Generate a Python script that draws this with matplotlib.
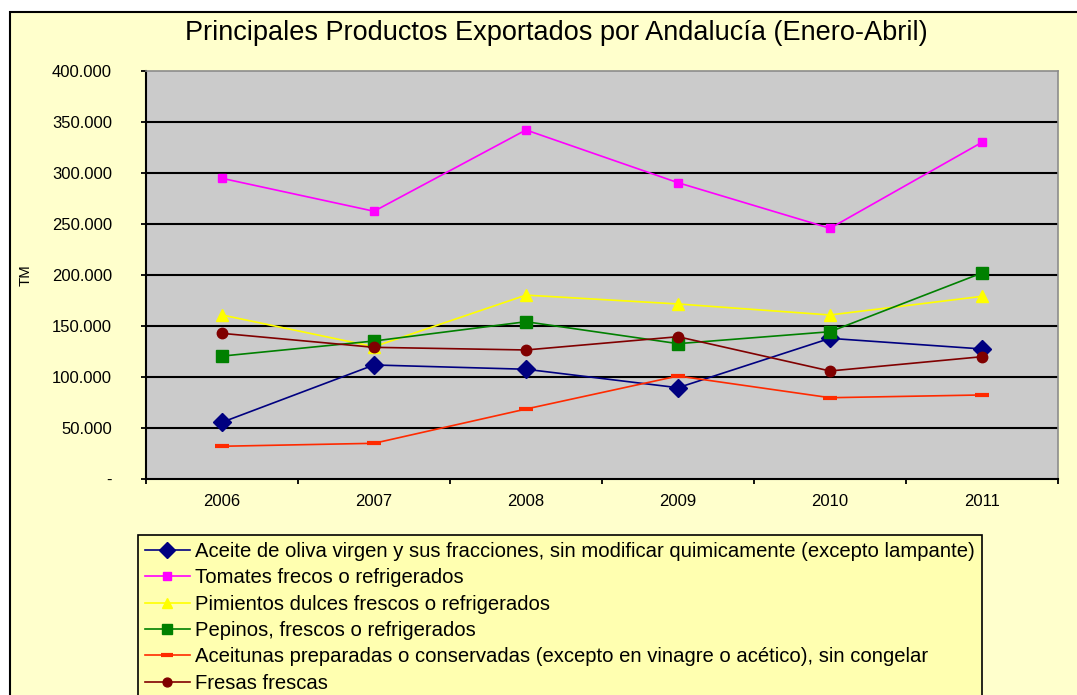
import matplotlib
matplotlib.use("Agg")
import matplotlib.pyplot as plt
from matplotlib.patches import Rectangle
from matplotlib.ticker import FuncFormatter, FixedLocator

plt.rcParams['font.family'] = ['Liberation Sans', 'DejaVu Sans']

years = ['2006', '2007', '2008', '2009', '2010', '2011']
aceite = [55300, 111500, 107300, 89200, 137600, 127200]
tomates = [294500, 262200, 341900, 290200, 245500, 329800]
pimientos = [160500, 129400, 180000, 171300, 160500, 178800]
pepinos = [120200, 135000, 153900, 132400, 144100, 201700]
aceitunas = [31800, 34700, 68300, 100700, 79400, 82100]
fresas = [142500, 128800, 126200, 139200, 105600, 119600]

labels = [
    'Aceite de oliva virgen y sus fracciones, sin modificar quimicamente (excepto lampante)',
    'Tomates frecos o refrigerados',
    'Pimientos dulces frescos o refrigerados',
    'Pepinos, frescos o refrigerados',
    'Aceitunas preparadas o conservadas (excepto en vinagre o acético), sin congelar',
    'Fresas frescas',
]
yticks = [0, 50000, 100000, 150000, 200000, 250000, 300000, 350000, 400000]
title = 'Principales Productos Exportados por Andalucía (Enero-Abril)'
ylabel = 'TM'

W, H = 1077, 695
fig = plt.figure(figsize=(W / 100, H / 100), dpi=100)
fig.patch.set_facecolor('white')

# outer chart area
fig.patches.append(Rectangle((10 / W, -0.1), 1.2, 1 - 12 / H + 0.1,
                             transform=fig.transFigure, facecolor='#FFFFCC',
                             edgecolor='black', linewidth=1.5, zorder=-5))

ax = fig.add_axes([146 / W, 1 - 478.7 / H, (1058 - 146) / W, (478.7 - 70.7) / H])
ax.set_zorder(2)
ax.set_facecolor('#CBCBCB')

x = list(range(len(years)))
series = [
    (aceite, '#000080', 'D', 9, {}),
    (tomates, '#FF00FF', 's', 6, {}),
    (pimientos, '#FFFF00', '^', 8.5, {}),
    (pepinos, '#008000', 's', 9, {}),
    (aceitunas, '#FF2A00', '_', 10, {'markeredgewidth': 3}),
    (fresas, '#800000', 'o', 7.5, {}),
]
handles = []
for (vals, col, mk, ms, extra), lab in zip(series, labels):
    h, = ax.plot(x, vals, color=col, marker=mk, markersize=ms, linewidth=1.2,
                 markerfacecolor=col, markeredgecolor=col, label=lab, zorder=3,
                 clip_on=False, **extra)
    handles.append(h)

for v in yticks[1:-1]:
    ax.axhline(v, color='black', linewidth=1.5, zorder=1)

ax.set_xlim(-0.5, len(years) - 0.5)
ax.set_ylim(yticks[0], yticks[-1])
ax.set_yticks(yticks)
ax.yaxis.set_major_formatter(FuncFormatter(
    lambda v, p: '-' if v == 0 else f'{int(v):,}'.replace(',', '.')))
ax.set_xticks(x)
ax.set_xticklabels(years)
ax.xaxis.set_minor_locator(FixedLocator([i - 0.5 for i in range(len(years) + 1)]))
ax.tick_params(axis='x', which='major', length=0, pad=11, labelsize=12)
ax.tick_params(axis='x', which='minor', length=3.6, width=1.3, direction='out', color='black')
ax.tick_params(axis='y', length=3.6, width=1.3, direction='out', pad=21, labelsize=12)

for s in ['left', 'bottom']:
    ax.spines[s].set_color('black')
    ax.spines[s].set_linewidth(1.5)
for s in ['top', 'right']:
    ax.spines[s].set_color('#8C8C8C')
    ax.spines[s].set_linewidth(1.2)

fig.text(26 / W, 1 - 275 / H, ylabel, rotation=90, ha='center', va='center', fontsize=10.8)
fig.text(556 / W, 1 - 33 / H, title, ha='center', va='center', fontsize=19.5)

leg = fig.legend(handles=handles, labels=labels, loc='upper left',
                 bbox_to_anchor=(138 / W, 1 - 535 / H), bbox_transform=fig.transFigure,
                 fontsize=14.6, frameon=True, fancybox=False, framealpha=1,
                 facecolor='#FFFFB0', edgecolor='black', borderaxespad=0,
                 borderpad=0.35, handlelength=2.2, handletextpad=0.25,
                 labelspacing=0.36, markerscale=0.85)
leg.set_zorder(3)
leg.get_frame().set_linewidth(1.2)

fig.savefig('out.png', dpi=100, facecolor=fig.get_facecolor())
